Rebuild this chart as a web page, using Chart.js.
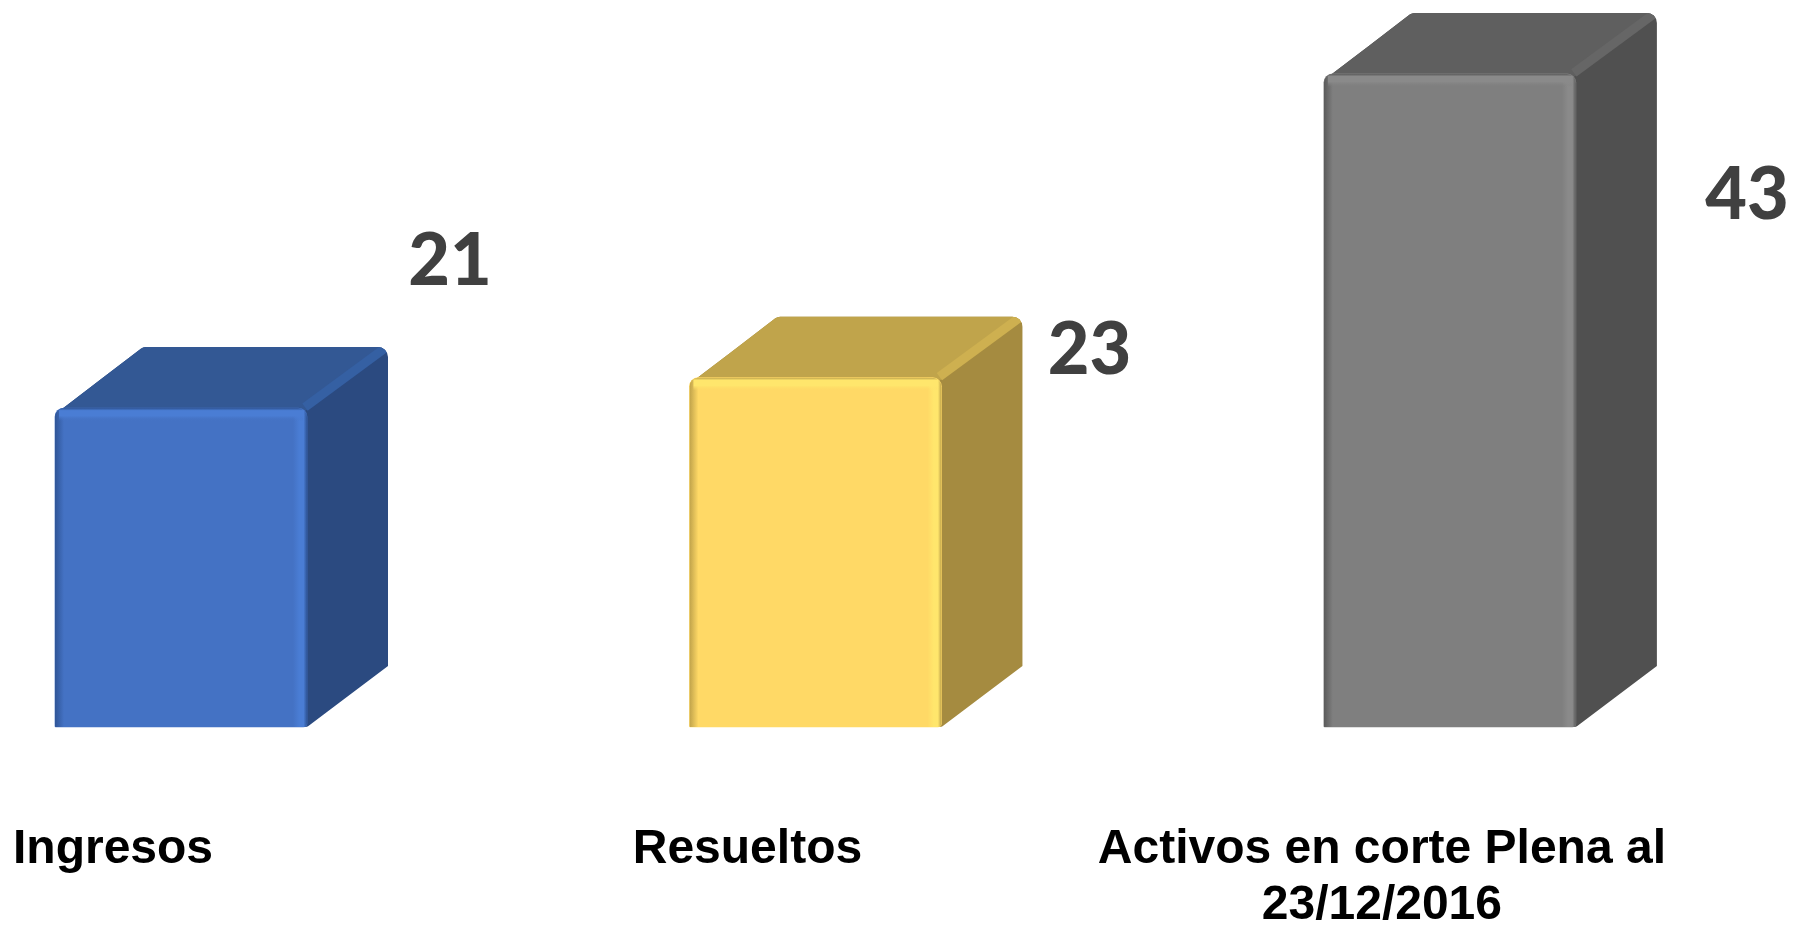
<!DOCTYPE html>
<html><head><meta charset="utf-8">
<style>html,body{margin:0;padding:0;background:#fff;overflow:hidden}canvas{display:block}</style>
<script src="https://cdn.jsdelivr.net/npm/chart.js@4"></script>
</head><body><canvas id="c" width="1794" height="925"></canvas>
<script>
const categories = [["Ingresos"], ["Resueltos"], ["Activos en corte Plena al", "23/12/2016"]];
const values = [21, 23, 43];
const frontColors = ["#4472C4", "#FFD966", "#7F7F7F"];
const topColors = ["#335894", "#C0A44B", "#5F5F5F"];
const sideColors = ["#2B4A80", "#A58B40", "#505050"];
const ridgeColors = ["#3560A3", "#CEB050", "#666666"];
const lightColors = ["#4A7DD4", "#FFE66C", "#8A8A8A"];
const darkColors = ["#2F5597", "#BFA24A", "#5A5A5A"];
const labelDx = [269, 274, 297];
const labelDy = [-146, -27, 122];
const DX = 81, DY = 61, R = 9;

function poly(ctx, pts, radii) {
  const n = pts.length;
  const mid = (a, b) => [(a[0] + b[0]) / 2, (a[1] + b[1]) / 2];
  const s = mid(pts[n - 1], pts[0]);
  ctx.beginPath();
  ctx.moveTo(s[0], s[1]);
  for (let i = 0; i < n; i++) {
    const p = pts[i], m = mid(p, pts[(i + 1) % n]);
    ctx.arcTo(p[0], p[1], m[0], m[1], radii[i] || 0);
    ctx.lineTo(m[0], m[1]);
  }
  ctx.closePath();
}

const cube = {
  id: "cube",
  beforeDatasetsDraw(chart) {
    const ctx = chart.ctx;
    chart.getDatasetMeta(0).data.forEach((el, i) => {
      const { x, y, base, width } = el.getProps(["x", "y", "base", "width"], true);
      const l = x - width / 2, r = x + width / 2;
      ctx.save();
      poly(ctx, [[l + 3, y + 4], [l + DX + 7, y - DY], [r + DX, y - DY], [r + DX, base - DY], [r, base], [r - 10, base], [r - 10, y + 5]],
        [2, 8, 10, 0, 4, 0, 0]);
      ctx.clip();
      ctx.fillStyle = sideColors[i];
      ctx.fillRect(l, y - DY - 2, width + DX + 2, base - y + DY + 4);
      ctx.beginPath();
      ctx.moveTo(l - 2, y + 6);
      ctx.lineTo(l + DX - 2, y - DY - 2);
      ctx.lineTo(r + DX + 2, y - DY - 2);
      ctx.lineTo(r + DX + 2, y - DY - 2 + 2);
      ctx.lineTo(r, y + 2);
      ctx.closePath();
      ctx.fillStyle = topColors[i];
      ctx.fill();
      ctx.strokeStyle = ridgeColors[i];
      ctx.lineWidth = 9;
      ctx.lineCap = "butt";
      ctx.beginPath();
      ctx.moveTo(r - 2, y - 1);
      ctx.lineTo(r + DX + 4, y - DY - 4);
      ctx.stroke();
      ctx.restore();
    });
  },
  afterDatasetsDraw(chart) {
    const ctx = chart.ctx;
    chart.getDatasetMeta(0).data.forEach((el, i) => {
      const { x, y, base, width } = el.getProps(["x", "y", "base", "width"], true);
      const l = x - width / 2, r = x + width / 2;
      ctx.save();
      poly(ctx, [[l, y], [r, y], [r, base], [l, base]], [R, R, 4, 1]);
      ctx.clip();
      let g = ctx.createLinearGradient(l, 0, l + 9, 0);
      g.addColorStop(0, darkColors[i]);
      g.addColorStop(1, frontColors[i]);
      ctx.fillStyle = g;
      ctx.fillRect(l, y, 9, base - y);
      g = ctx.createLinearGradient(r - 14, 0, r, 0);
      g.addColorStop(0, frontColors[i]);
      g.addColorStop(0.45, lightColors[i]);
      g.addColorStop(0.75, lightColors[i]);
      g.addColorStop(1, darkColors[i]);
      ctx.fillStyle = g;
      ctx.fillRect(r - 14, y, 14, base - y);
      g = ctx.createLinearGradient(0, y, 0, y + 13);
      g.addColorStop(0, darkColors[i]);
      g.addColorStop(0.2, lightColors[i]);
      g.addColorStop(0.6, lightColors[i]);
      g.addColorStop(1, frontColors[i] + "00");
      ctx.fillStyle = g;
      ctx.fillRect(l + 4, y, width - 8, 13);
      g = ctx.createRadialGradient(r - 8, y + 8, 0, r - 8, y + 8, 6);
      g.addColorStop(0, lightColors[i]);
      g.addColorStop(1, lightColors[i] + "00");
      ctx.fillStyle = g;
      ctx.fillRect(r - 14, y + 2, 12, 12);
      ctx.restore();

      ctx.save();
      ctx.font = "900 72px Lato, 'Open Sans', sans-serif";
      ctx.fillStyle = "#404040";
      ctx.textAlign = "center";
      ctx.textBaseline = "middle";
      ctx.fillText(String(values[i]), x + labelDx[i], y + labelDy[i]);
      ctx.restore();
    });
  }
};

new Chart(document.getElementById("c"), {
  type: "bar",
  data: {
    labels: categories,
    datasets: [{
      data: values,
      backgroundColor: frontColors,
      borderWidth: 0,
      borderRadius: { topLeft: R, topRight: R, bottomLeft: 1, bottomRight: 4 },
      borderSkipped: false,
      barThickness: 252,
      clip: false
    }]
  },
  options: {
    responsive: false,
    animation: false,
    layout: { padding: { left: 181, right: 344, top: 43.5, bottom: 0 } },
    plugins: { legend: { display: false }, tooltip: { enabled: false }, title: { display: false } },
    scales: {
      x: {
        offset: false,
        grid: { display: false, tickLength: 34 },
        border: { display: false },
        afterFit(s) { s.height = 198; },
        ticks: {
          autoSkip: false, maxRotation: 0, minRotation: 0,
          labelOffset: -68,
          padding: 60,
          color: "#000000",
          font: { family: "'Liberation Sans', Arial, sans-serif", weight: "bold", size: 48, lineHeight: 1.18 }
        }
      },
      y: { display: false, min: 0, max: 45 }
    }
  },
  plugins: [cube]
});
</script></body></html>
